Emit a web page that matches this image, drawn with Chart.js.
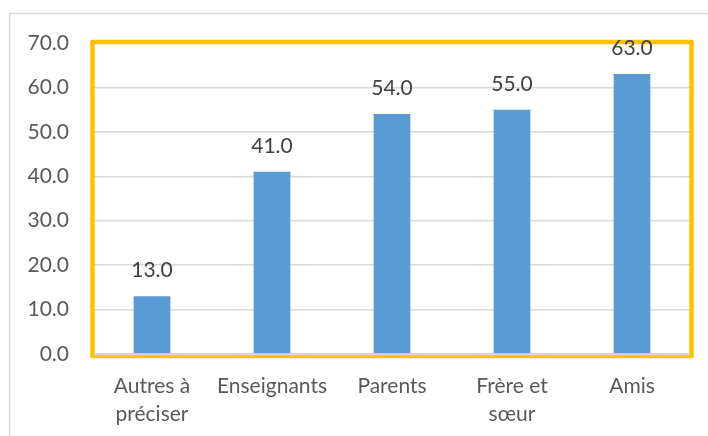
<!DOCTYPE html>
<html>
<head>
<meta charset="utf-8">
<script src="https://cdn.jsdelivr.net/npm/chart.js@4"></script>
<style>
  html, body { margin: 0; padding: 0; background: #fff; }
  #wrap { width: 708px; height: 436px; position: relative; }
</style>
</head>
<body>
<div id="wrap"><canvas id="c" width="708" height="436"></canvas></div>
<script>
// Categories (two-line labels) and values
const categories = [
  ["Autres à", "préciser"],
  "Enseignants",
  "Parents",
  ["Frère et", "sœur"],
  "Amis"
];
const values = [13.0, 41.0, 54.0, 55.0, 63.0];
const yTicks = [0, 10, 20, 30, 40, 50, 60, 70];

const FONT = "Lato, 'Liberation Sans', sans-serif";

// Light outer frame and gold plot-area frame
const framePlugin = {
  id: 'frames',
  beforeDraw(chart) {
    const ctx = chart.ctx;
    ctx.save();
    ctx.fillStyle = '#fff';
    ctx.fillRect(0, 0, chart.width, chart.height);
    ctx.strokeStyle = '#D9D9D9';
    ctx.lineWidth = 1.5;
    ctx.strokeRect(9.5, 13.5, 900, 600);
    ctx.restore();
  },
  afterDatasetsDraw(chart) {
    const { ctx, chartArea: a } = chart;
    ctx.save();
    ctx.strokeStyle = '#FFC000';
    ctx.lineWidth = 4.5;
    ctx.lineJoin = 'round';
    ctx.strokeRect(a.left + 0.5, a.top - 1, a.right - a.left - 1, a.bottom - a.top + 3);
    // baseline of the value axis
    ctx.strokeStyle = '#D9D9D9';
    ctx.lineWidth = 1.5;
    ctx.beginPath();
    ctx.moveTo(a.left + 2, a.bottom + 0.5);
    ctx.lineTo(a.right - 2, a.bottom + 0.5);
    ctx.stroke();
    ctx.restore();
  }
};

// Value labels above each bar
const valueLabels = {
  id: 'valueLabels',
  afterDraw(chart) {
    const ctx = chart.ctx;
    const meta = chart.getDatasetMeta(0);
    ctx.save();
    ctx.font = `21px ${FONT}`;
    ctx.fillStyle = '#404040';
    ctx.textAlign = 'center';
    ctx.textBaseline = 'alphabetic';
    meta.data.forEach((bar, i) => {
      ctx.fillText(values[i].toFixed(1), bar.x, bar.y - 19);
    });
    ctx.restore();
  }
};

new Chart(document.getElementById('c'), {
  type: 'bar',
  data: {
    labels: categories,
    datasets: [{
      data: values,
      backgroundColor: '#5B9BD5',
      borderWidth: 0,
      barPercentage: 0.306,
      categoryPercentage: 1.0
    }]
  },
  options: {
    responsive: false,
    animation: false,
    layout: { padding: { top: 43, right: 16, left: 0, bottom: 0 } },
    plugins: {
      legend: { display: false },
      tooltip: { enabled: false }
    },
    scales: {
      x: {
        grid: { display: false, drawTicks: false },
        border: { display: false },
        ticks: {
          color: '#595959',
          font: { family: FONT, size: 21, lineHeight: 1.35 },
          padding: 18,
          maxRotation: 0,
          autoSkip: false
        },
        afterFit(scale) { scale.height = 82; }
      },
      y: {
        min: 0,
        max: 70,
        afterBuildTicks(scale) { scale.ticks = yTicks.map(v => ({ value: v })); },
        grid: { color: '#D9D9D9', lineWidth: 1.5, drawTicks: false },
        border: { display: false },
        ticks: {
          color: '#595959',
          font: { family: FONT, size: 21 },
          padding: 23,
          callback: v => Number(v).toFixed(1)
        },
        afterFit(scale) { scale.width = 92; }
      }
    }
  },
  plugins: [framePlugin, valueLabels]
});
</script>
</body>
</html>
